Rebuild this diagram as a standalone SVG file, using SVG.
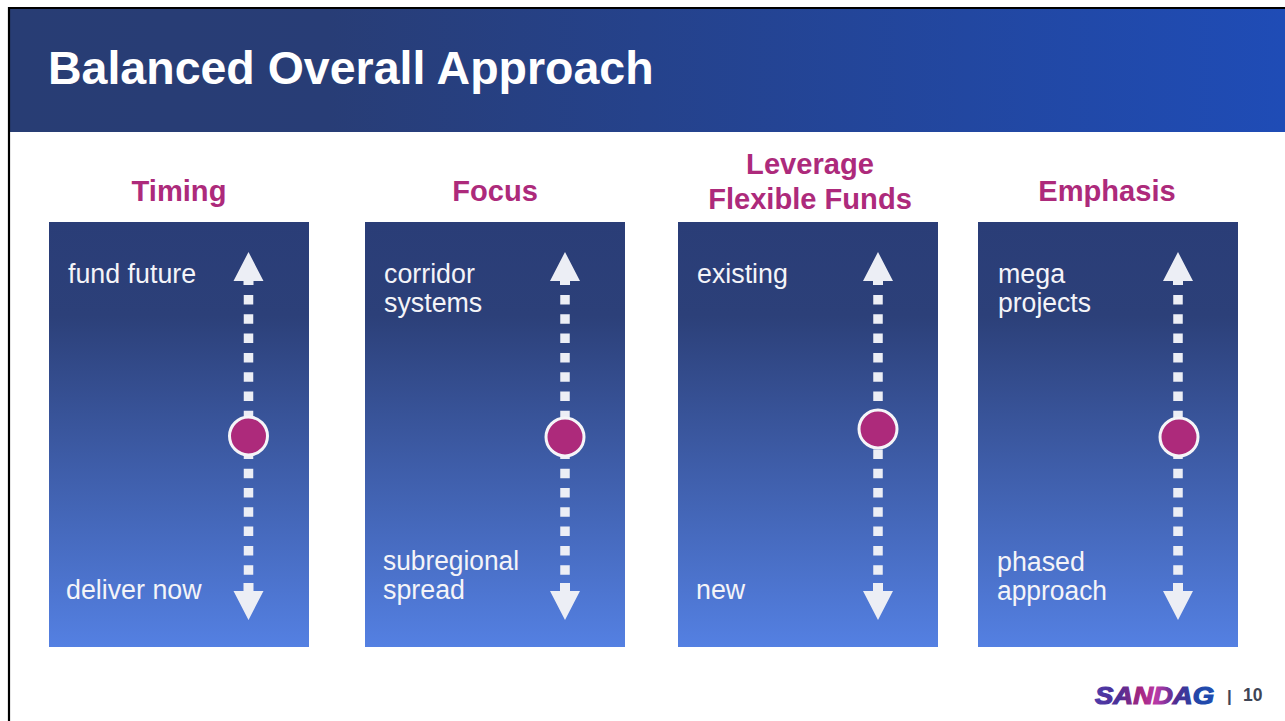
<svg xmlns="http://www.w3.org/2000/svg" width="1285" height="721" viewBox="0 0 1285 721">
<style>
.h{font:bold 29.100px "Liberation Sans",Arial,sans-serif;fill:#ad2a7b;text-anchor:middle}
.t{font:26.800px "Liberation Sans",Arial,sans-serif;fill:#f4f4f8}
.p{fill:url(#pg)}
.a{fill:#eceef5}
.d{stroke:#eceef5;stroke-width:9.500;stroke-dasharray:9.500 9.800;fill:none}
.c{fill:#ad2a7b;stroke:#f5f5f8;stroke-width:3}
</style>
<defs>
<linearGradient id="hg" x1="0" x2="1" y1="0" y2="0"><stop offset="0" stop-color="#283d74"/><stop offset=".25" stop-color="#283d76"/><stop offset="1" stop-color="#1f4cb6"/></linearGradient>
<linearGradient id="pg" x1="0" x2="0" y1="0" y2="1"><stop offset="0" stop-color="#2a3d77"/><stop offset=".22" stop-color="#2c4079"/><stop offset="1" stop-color="#5480e2"/></linearGradient>
<linearGradient id="lg" x1="0" x2="1" y1="0" y2="0"><stop offset="0" stop-color="#4f3aa8"/><stop offset=".2" stop-color="#4a2f96"/><stop offset=".38" stop-color="#a5257f"/><stop offset=".52" stop-color="#b83aa8"/><stop offset=".68" stop-color="#4f2c90"/><stop offset=".85" stop-color="#2446a8"/><stop offset="1" stop-color="#1f4cb0"/></linearGradient>
<g id="arrow">
<path class="d" d="M0 43V323"/>
<path class="a" d="M0 0L15 29H5V33H-5V29H-15Z"/>
<path class="a" d="M0 368L15 339H5V331H-5V339H-15Z"/>
</g>
</defs>
<rect width="1285" height="721" fill="#fff"/>
<g id="header">
<rect x="9" y="8" width="1276" height="124" fill="url(#hg)"/>
<path d="M9 721V8H1285" fill="none" stroke="#000" stroke-width="2.200"/>
<text x="48" y="84" font-family="'Liberation Sans',Arial,sans-serif" font-weight="bold" font-size="46.500" fill="#fff">Balanced Overall Approach</text>
</g>
<g id="timing">
<text class="h" x="179" y="201">Timing</text>
<rect class="p" x="49" y="222" width="260" height="425"/>
<use href="#arrow" x="248.500" y="252"/>
<circle class="c" cx="248.500" cy="436" r="19"/>
<text class="t" x="68" y="283">fund future</text>
<text class="t" x="66" y="599">deliver now</text>
</g>
<g id="focus">
<text class="h" x="495" y="201">Focus</text>
<rect class="p" x="365" y="222" width="260" height="425"/>
<use href="#arrow" x="565" y="252"/>
<circle class="c" cx="565" cy="437" r="19"/>
<text class="t" x="384" y="283">corridor</text>
<text class="t" x="384" y="312">systems</text>
<text class="t" x="383" y="570" textLength="136" lengthAdjust="spacingAndGlyphs">subregional</text>
<text class="t" x="383" y="599">spread</text>
</g>
<g id="leverage">
<text class="h" x="810" y="174">Leverage</text>
<text class="h" x="810" y="209">Flexible Funds</text>
<rect class="p" x="678" y="222" width="260" height="425"/>
<use href="#arrow" x="878" y="252"/>
<circle class="c" cx="878" cy="429" r="19"/>
<text class="t" x="697" y="283">existing</text>
<text class="t" x="696" y="599">new</text>
</g>
<g id="emphasis">
<text class="h" x="1107" y="201">Emphasis</text>
<rect class="p" x="978" y="222" width="260" height="425"/>
<use href="#arrow" x="1178" y="252"/>
<circle class="c" cx="1179" cy="437" r="19"/>
<text class="t" x="998" y="283">mega</text>
<text class="t" x="998" y="312" textLength="93" lengthAdjust="spacingAndGlyphs">projects</text>
<text class="t" x="997" y="571">phased</text>
<text class="t" x="997" y="600" textLength="110" lengthAdjust="spacingAndGlyphs">approach</text>
</g>
<g id="footer">
<text x="1095" y="704" font-family="'Liberation Sans',Arial,sans-serif" font-weight="bold" font-style="italic" font-size="24" fill="url(#lg)" stroke="url(#lg)" stroke-width="1.200" textLength="119" lengthAdjust="spacingAndGlyphs">SANDAG</text>
<text x="1227" y="702" font-family="'Liberation Sans',Arial,sans-serif" font-weight="bold" font-size="17" fill="#3f4556">|</text>
<text x="1243" y="701" font-family="'Liberation Sans',Arial,sans-serif" font-weight="bold" font-size="17.500" fill="#3f4556">10</text>
</g>
</svg>
